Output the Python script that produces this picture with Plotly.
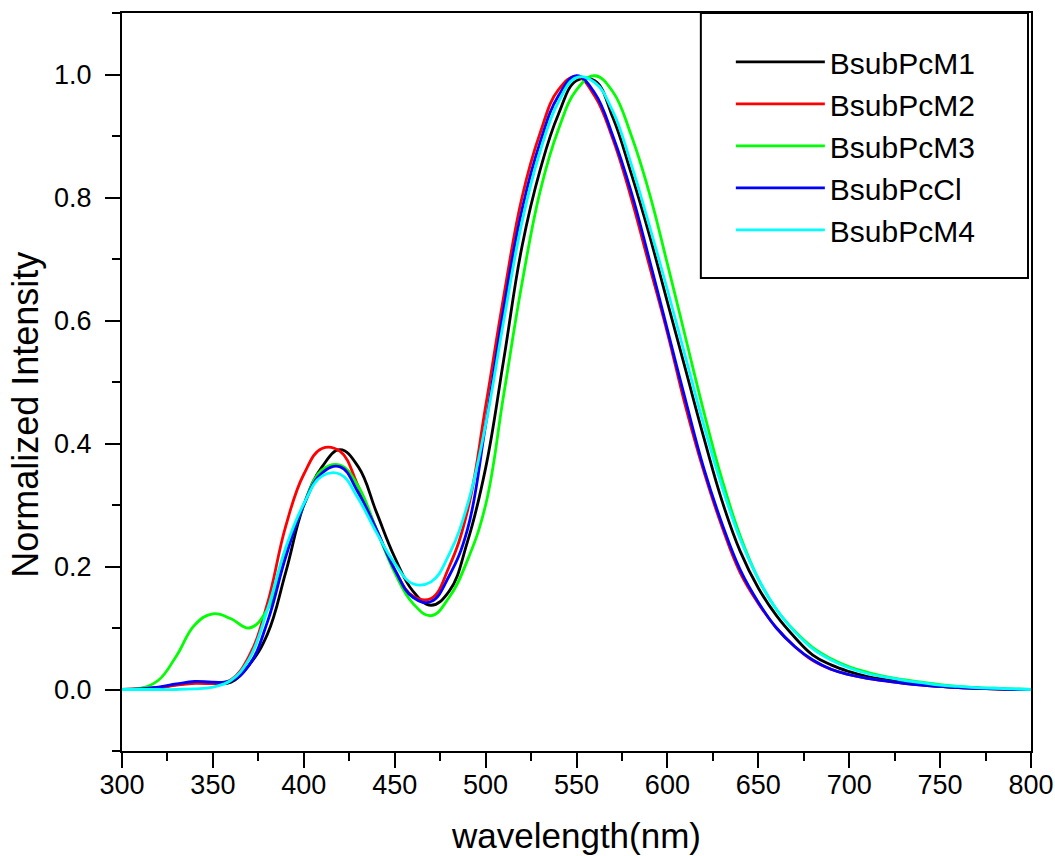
import plotly.graph_objects as go

wavelength = [300, 310, 320, 330, 340, 350, 360, 370, 380, 390,
              400, 410, 420, 430, 440, 450, 460, 470, 480, 490,
              500, 510, 520, 530, 540, 550, 560, 570, 580, 590,
              600, 610, 620, 630, 640, 650, 660, 670, 680, 690,
              700, 710, 720, 730, 740, 750, 760, 770, 780, 790, 800]

bsubpcm1 = [0.0, 0.001, 0.003, 0.008, 0.011, 0.010, 0.012, 0.040, 0.090, 0.190,
            0.300, 0.362, 0.390, 0.362, 0.288, 0.215, 0.160, 0.137, 0.160, 0.240,
            0.360, 0.537, 0.720, 0.845, 0.935, 0.990, 0.990, 0.930, 0.840, 0.740,
            0.630, 0.520, 0.410, 0.307, 0.225, 0.165, 0.120, 0.085, 0.056, 0.040,
            0.029, 0.021, 0.016, 0.012, 0.008, 0.005, 0.003, 0.002, 0.001, 0.0, 0.0]

bsubpcm2 = [0.0, 0.001, 0.003, 0.007, 0.010, 0.010, 0.016, 0.055, 0.140, 0.265,
            0.350, 0.392, 0.387, 0.330, 0.260, 0.195, 0.152, 0.148, 0.200, 0.290,
            0.460, 0.640, 0.800, 0.905, 0.975, 0.997, 0.965, 0.895, 0.800, 0.690,
            0.580, 0.460, 0.355, 0.265, 0.190, 0.140, 0.100, 0.070, 0.047, 0.033,
            0.024, 0.018, 0.014, 0.010, 0.007, 0.005, 0.003, 0.002, 0.001, 0.0, 0.0]

bsubpcm3 = [0.0, 0.002, 0.015, 0.055, 0.105, 0.123, 0.115, 0.100, 0.130, 0.220,
            0.300, 0.357, 0.365, 0.330, 0.260, 0.190, 0.140, 0.120, 0.150, 0.210,
            0.300, 0.480, 0.660, 0.810, 0.910, 0.975, 0.998, 0.972, 0.902, 0.808,
            0.692, 0.572, 0.452, 0.342, 0.250, 0.180, 0.130, 0.095, 0.068, 0.050,
            0.037, 0.028, 0.021, 0.016, 0.012, 0.008, 0.005, 0.003, 0.002, 0.001, 0.0]

bsubpccl = [0.0, 0.001, 0.004, 0.009, 0.013, 0.012, 0.014, 0.040, 0.110, 0.215,
            0.300, 0.352, 0.362, 0.320, 0.260, 0.195, 0.150, 0.143, 0.185, 0.260,
            0.430, 0.620, 0.780, 0.890, 0.965, 0.998, 0.970, 0.900, 0.810, 0.700,
            0.585, 0.470, 0.360, 0.270, 0.195, 0.142, 0.100, 0.070, 0.048, 0.033,
            0.024, 0.018, 0.014, 0.010, 0.007, 0.005, 0.003, 0.002, 0.001, 0.0, 0.0]

bsubpcm4 = [0.0, 0.0, 0.0, 0.0, 0.001, 0.004, 0.015, 0.050, 0.130, 0.230,
            0.302, 0.347, 0.350, 0.310, 0.255, 0.205, 0.172, 0.175, 0.220, 0.300,
            0.430, 0.600, 0.760, 0.875, 0.955, 0.995, 0.987, 0.940, 0.855, 0.755,
            0.650, 0.540, 0.430, 0.330, 0.245, 0.180, 0.130, 0.094, 0.066, 0.048,
            0.035, 0.026, 0.020, 0.015, 0.011, 0.007, 0.005, 0.003, 0.002, 0.001, 0.0]

series_names = ["BsubPcM1", "BsubPcM2", "BsubPcM3", "BsubPcCl", "BsubPcM4"]
series_values = [bsubpcm1, bsubpcm2, bsubpcm3, bsubpccl, bsubpcm4]
series_colors = ["#000000", "#ff0000", "#00ff00", "#0000ff", "#00ffff"]

x_tickvals = [300, 350, 400, 450, 500, 550, 600, 650, 700, 750, 800]
y_tickvals = [0.0, 0.2, 0.4, 0.6, 0.8, 1.0]
y_ticktext = ["0.0", "0.2", "0.4", "0.6", "0.8", "1.0"]

FONT = "Liberation Sans, Arial, sans-serif"

fig = go.Figure()
for name, vals, col in zip(series_names, series_values, series_colors):
    fig.add_trace(go.Scatter(
        x=wavelength, y=vals, name=name, mode="lines",
        line=dict(color=col, width=2.8, shape="spline", smoothing=1.2),
    ))

axis_common = dict(
    showline=True, linecolor="black", linewidth=2, mirror=True,
    ticks="outside", ticklen=15, tickwidth=2, tickcolor="black",
    showgrid=False, zeroline=False, automargin=False,
    tickfont=dict(family=FONT, size=27, color="black"),
)

fig.update_layout(
    width=1055, height=856,
    margin=dict(l=122, r=24, t=13, b=105),
    paper_bgcolor="white", plot_bgcolor="white",
    font=dict(family=FONT, color="black"),
    xaxis=dict(
        range=[300, 800], tickvals=x_tickvals,
        minor=dict(dtick=25, tick0=300, ticks="outside", ticklen=8, tickwidth=2, tickcolor="black"),
        title=dict(text="wavelength(nm)", font=dict(family=FONT, size=35, color="black"), standoff=24),
        ticklabelstandoff=-6,
        **axis_common,
    ),
    yaxis=dict(
        range=[-0.1, 1.1], tickvals=y_tickvals, ticktext=y_ticktext,
        minor=dict(dtick=0.1, tick0=-0.1, ticks="outside", ticklen=8, tickwidth=2, tickcolor="black"),
        ticklabelstandoff=8,
        **axis_common,
    ),
    showlegend=True,
    legend=dict(
        x=0.6698, y=0.969, xanchor="left", yanchor="top",
        bgcolor="rgba(0,0,0,0)", borderwidth=0,
        font=dict(family=FONT, size=30, color="black"),
        itemwidth=89, tracegroupgap=0,
    ),
    shapes=[dict(type="rect", xref="paper", yref="paper",
                 x0=0.6368, x1=0.9967, y0=0.6408, y1=1.0,
                 line=dict(color="black", width=2), layer="above")],
    annotations=[dict(text="Normalized Intensity", textangle=-90,
                      xref="paper", yref="paper", x=-0.106, y=0.455,
                      xanchor="center", yanchor="middle", showarrow=False,
                      font=dict(family=FONT, size=36, color="black"))],
)

fig.write_html("out.html")
